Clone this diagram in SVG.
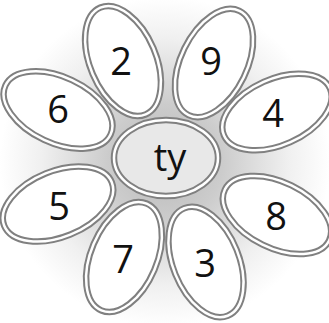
<svg xmlns="http://www.w3.org/2000/svg" width="329" height="323" viewBox="0 0 329 323">
<defs>
<radialGradient id="bg" cx="165" cy="162" r="165" gradientUnits="userSpaceOnUse">
<stop offset="0" stop-color="#b8b8b8"/>
<stop offset="0.35" stop-color="#cccccc"/>
<stop offset="0.75" stop-color="#f0f0f0"/>
<stop offset="1" stop-color="#ffffff"/>
</radialGradient>
</defs>
<style>
.po{fill:#ffffff;stroke:#808080;stroke-width:6.5}
.pi{fill:none;stroke:#ffffff;stroke-width:2.5}
.co{fill:#e8e8e8;stroke:#808080;stroke-width:6.5}
.t{font-family:"Open Sans","DejaVu Sans",sans-serif;font-size:38px;fill:#111111;text-anchor:middle}
</style>
<rect width="329" height="323" fill="url(#bg)"/>
<g id="connectors"></g>
<g id="n2"><g transform="translate(123,61) rotate(-23)"><ellipse class="po" rx="33" ry="58"/><ellipse class="pi" rx="33" ry="58"/></g><text class="t" x="121" y="75">2</text></g>
<g id="n9"><g transform="translate(214,63) rotate(26)"><ellipse class="po" rx="33" ry="58"/><ellipse class="pi" rx="33" ry="58"/></g><text class="t" x="211" y="75">9</text></g>
<g id="n4"><g transform="translate(277,112) rotate(66)"><ellipse class="po" rx="33" ry="58"/><ellipse class="pi" rx="33" ry="58"/></g><text class="t" x="273" y="127">4</text></g>
<g id="n8"><g transform="translate(277,215) rotate(116)"><ellipse class="po" rx="33" ry="58"/><ellipse class="pi" rx="33" ry="58"/></g><text class="t" x="276" y="230">8</text></g>
<g id="n3"><g transform="translate(206,262) rotate(158)"><ellipse class="po" rx="33" ry="58"/><ellipse class="pi" rx="33" ry="58"/></g><text class="t" x="205" y="277">3</text></g>
<g id="n7"><g transform="translate(124,257) rotate(-157)"><ellipse class="po" rx="33" ry="58"/><ellipse class="pi" rx="33" ry="58"/></g><text class="t" x="123" y="273">7</text></g>
<g id="n5"><g transform="translate(58,204) rotate(-112)"><ellipse class="po" rx="33" ry="58"/><ellipse class="pi" rx="33" ry="58"/></g><text class="t" x="59" y="220">5</text></g>
<g id="n6"><g transform="translate(58,110) rotate(-65)"><ellipse class="po" rx="33" ry="58"/><ellipse class="pi" rx="33" ry="58"/></g><text class="t" x="58" y="123">6</text></g>
<g id="center"><ellipse class="co" cx="166" cy="158" rx="52" ry="38"/><ellipse class="pi" cx="166" cy="158" rx="52" ry="38"/><text class="t" x="170" y="171">ty</text></g>
</svg>
